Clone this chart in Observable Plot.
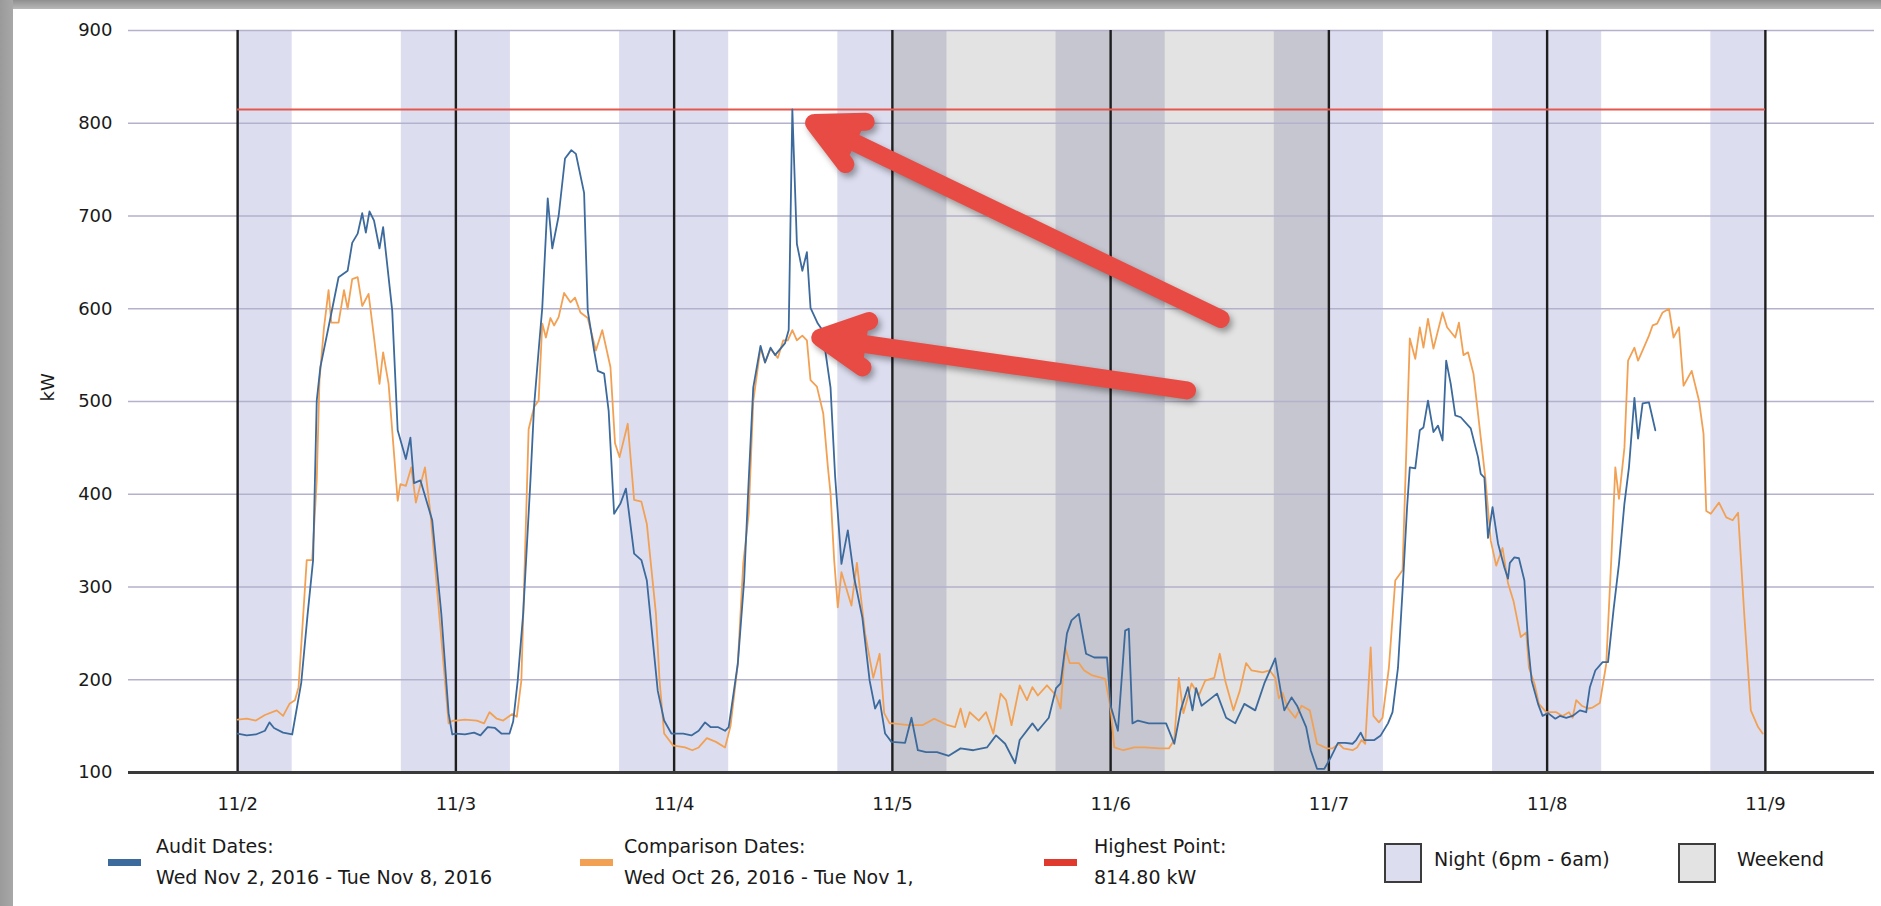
<!DOCTYPE html>
<html>
<head>
<meta charset="utf-8">
<script src="https://cdn.jsdelivr.net/npm/d3@7"></script>
<script src="https://cdn.jsdelivr.net/npm/@observablehq/plot@0.6"></script>
<style>
  html, body { margin: 0; padding: 0; background: #fff; }
  body { width: 1881px; height: 906px; position: relative; overflow: hidden; font-family: "DejaVu Sans", Verdana, sans-serif; color: #1a1a1a; }
  #frameTop { position: absolute; left: 0; top: 0; width: 1881px; height: 9px; background: linear-gradient(#8f8f8f, #b8b8b8); z-index: 5; }
  #frameLeft { position: absolute; left: 0; top: 0; width: 13px; height: 906px; background: linear-gradient(90deg, #9a9a9a, #a8a8a8); z-index: 5; }
  #chart { position: absolute; left: 0; top: 0; }
  #legend { position: absolute; left: 0; top: 830px; width: 1881px; height: 76px; font-size: 19px; }
  .sw { position: absolute; height: 7px; width: 33px; }
  .lt { position: absolute; line-height: 31px; white-space: nowrap; }
  .box { position: absolute; width: 34px; height: 36px; border: 2px solid #3c3c3c; box-sizing: content-box; }
</style>
</head>
<body>
<div id="frameTop"></div>
<div id="frameLeft"></div>
<div id="chart"></div>
<div id="legend"></div>
<script>
// ---- data (hours after Wed Nov 2, 2016 00:00, kW) ----
const audit = [
  [0,142],[1,140],[2,141],[3,145],[3.5,154],[4,148],[5,143],[6,141],[7,197],[7.7,271],[8.3,329],[8.7,501],[9.1,537],[10.2,590],[11.1,634],[12.1,641],[12.6,671],[13.2,681],[13.7,703],[14.1,682],[14.5,705],[15,695],[15.6,665],[16,688],[17,598],[17.6,469],[18.5,438],[19,461],[19.4,412],[20.1,415],[21.4,372],[22.4,271],[23.2,164],[23.6,141],
  [24,142],[25,141],[26,143],[26.7,140],[27.5,149],[28.3,148],[29,142],[29.9,142],[30.3,155],[30.8,199],[31.4,271],[32.2,415],[32.6,495],[33.1,555],[33.5,601],[34.1,719],[34.6,665],[35.3,700],[36,762],[36.7,771],[37.2,767],[38.1,725],[38.5,598],[39.2,555],[39.6,533],[40.3,530],[40.8,490],[41.4,379],[42.1,390],[42.7,406],[43.6,336],[44.4,329],[45,307],[46.2,188],[46.9,156],[47.7,142],
  [48,142],[49,142],[49.9,140],[50.7,145],[51.4,154],[52,149],[52.8,149],[53.6,145],[54,149],[55,217],[55.7,307],[56.2,415],[56.7,515],[57.5,560],[58,542],[58.6,558],[59.1,550],[59.7,557],[60.2,563],[60.6,577],[61,814.8],[61.5,670],[62.1,641],[62.6,661],[63,601],[63.8,584],[64.3,577],[65.2,515],[65.7,420],[66.4,325],[67.1,361],[67.8,310],[68.7,267],[69.5,199],[70.1,169],[70.6,178],[71.2,142],[71.9,133],
  [73.4,132],[74.1,159],[74.8,124],[75.7,122],[76.9,122],[78.2,118],[79.5,126],[80.9,124],[82.4,127],[83.4,140],[84.4,131],[85.5,110],[86,135],[87.4,153],[88,145],[89.2,159],[90,191],[90.5,196],[91.2,250],[91.7,264],[92.5,271],[93.3,228],[94.2,224],[95.6,224],
  [96,172],[96.8,145],[97.6,253],[98,255],[98.4,153],[99,156],[100.2,153],[102.1,153],[103,131],[103.7,167],[104.5,192],[105,167],[105.4,191],[106,172],[106.8,178],[107.7,185],[108.7,159],[109.7,153],[110.7,174],[111.9,167],[112.9,196],[114.1,223],[114.7,188],[115.1,167],[115.9,181],[116.5,172],[117.5,149],[118,124],[118.7,104],[119.5,104],
  [120.2,116],[121,132],[121.8,132],[122.6,131],[123,135],[123.5,143],[123.9,135],[125,135],[125.7,140],[126.5,153],[127,165],[127.6,213],[128.1,296],[128.6,386],[128.9,429],[129.5,428],[130,469],[130.4,472],[130.9,501],[131.5,467],[132,474],[132.5,458],[132.9,544],[133.4,519],[133.9,485],[134.5,483],[135.6,471],[136.4,440],[136.7,422],[137.1,418],[137.5,353],[138,386],[138.6,347],[139.3,321],[139.7,309],[139.9,326],[140.4,332],[140.9,331],[141.5,307],[141.9,239],[142.3,199],[143,174],[143.5,161],
  [144.1,164],[144.9,158],[145.4,161],[146.1,159],[146.8,161],[147.6,167],[148.3,165],[148.7,192],[149.3,210],[150.1,219],[150.7,219],[151.3,275],[151.9,325],[152.5,390],[153,429],[153.6,504],[154,460],[154.5,498],[155.2,499],[155.9,469]
];
const comparison = [
  [0,157],[1,158],[2,156],[3,162],[4.3,167],[5,161],[5.7,174],[6.3,178],[6.7,192],[7.6,329],[8.2,329],[8.7,415],[9,523],[9.5,580],[10,620],[10.3,585],[11.1,585],[11.7,620],[12.1,600],[12.6,632],[13.2,634],[13.7,603],[14.4,616],[15,569],[15.6,519],[16,553],[16.6,519],[17.6,393],[17.9,411],[18.5,409],[19.1,429],[19.6,391],[20.6,429],[21.2,380],[22.8,199],[23.2,153],[23.7,156],
  [24,156],[25,157],[26.3,156],[27.1,153],[27.7,165],[28.5,158],[29.2,156],[30.2,163],[30.7,160],[31.2,199],[32,470],[32.6,494],[33.1,501],[33.5,584],[33.9,569],[34.4,590],[34.8,582],[35.3,591],[35.9,617],[36.6,607],[37.1,612],[37.7,596],[38.5,590],[39.4,555],[40.1,577],[41,537],[41.5,455],[42,440],[42.9,476],[43.6,394],[44.4,392],[45,368],[46,271],[46.4,199],[46.9,142],[47.9,129],
  [48,129],[49.2,127],[50,124],[50.7,127],[51.6,137],[52.6,133],[53.6,127],[54.2,150],[55,217],[55.6,325],[56.2,379],[56.7,500],[57.5,558],[58,542],[58.6,557],[59.4,547],[60,566],[60.5,566],[61,577],[61.5,566],[62.1,571],[62.6,566],[63,523],[63.7,516],[64.4,487],[64.9,430],[65.2,401],[65.6,329],[66,278],[66.4,316],[67.5,280],[68.1,326],[69,250],[69.9,202],[70.6,228],[71.1,164],[71.7,153],
  [72,153],[73.8,151],[75.3,151],[76.6,158],[78.1,151],[78.9,149],[79.5,169],[80,149],[80.5,165],[81.5,156],[82.3,165],[83.1,142],[83.9,185],[84.5,178],[85.1,151],[86,194],[86.8,178],[87.4,192],[88,183],[89,194],[90,183],[90.5,169],[91,235],[91.5,218],[92.5,218],[93.1,210],[93.9,205],[95.4,201],
  [96,169],[96.4,127],[97.4,124],[98.6,127],[99.7,127],[101.4,126],[102.4,126],[103,135],[103.5,202],[104,164],[104.9,196],[105.7,183],[106.4,199],[107.4,202],[108,228],[108.6,199],[109.5,167],[110.2,188],[110.9,218],[111.5,210],[112.7,208],[113.5,210],[114.1,202],[114.5,180],[114.9,186],[115.5,169],[116.3,159],[117,172],[117.9,167],[118.7,131],[119.8,126],
  [120.4,126],[121.1,131],[121.6,126],[122.6,124],[123.1,127],[123.6,135],[124,131],[124.6,235],[124.9,161],[125.5,154],[125.9,159],[126.6,213],[127.3,307],[128.1,318],[128.4,411],[128.9,568],[129.5,546],[130,580],[130.4,558],[130.9,589],[131.5,557],[132.5,596],[133,580],[133.9,569],[134.3,585],[134.8,550],[135.3,553],[135.9,530],[136.7,461],[137.2,418],[137.8,350],[138.4,323],[139.1,342],[139.7,304],[140.3,285],[141.1,246],[141.7,251],[142,213],[142.6,196],[143.1,174],[143.9,165],
  [144.3,165],[145,165],[145.7,161],[146.4,165],[146.8,159],[147.2,178],[147.8,172],[148.5,169],[149,170],[149.8,175],[150.5,217],[151.1,339],[151.5,429],[151.9,395],[152.5,450],[152.9,544],[153.6,558],[154,544],[154.5,555],[155.2,571],[155.6,582],[156.1,584],[156.7,596],[157.4,600],[157.9,569],[158.5,580],[159,517],[159.9,533],[160.7,501],[161.2,465],[161.5,382],[162,379],[162.9,391],[163.7,375],[164.4,372],[165,380],[165.7,267],[166.4,167],[167.2,149],[167.7,142]
];
const highestPoint = 814.8;
const highestSpan = [0, 168];            // hours: 11/2 .. 11/9
const nightBands = [[0,6],[18,30],[42,54],[66,72],[120,126],[138,150],[162,168]];
const weekendBands = [[72,120]];
const weekendNightBands = [[72,78],[90,102],[114,120]];
const dayHours = [0,24,48,72,96,120,144,168];
const yTicks = [100,200,300,400,500,600,700,800,900];
const xDomainHours = [-12, 180];
const yDomain = [100, 900];
// annotation arrows: [tailHour, tailKW, tipHour, tipKW]
const arrows = [[108.1,589,62.6,804],[104.4,512,63.2,570]];
const legendItems = [
  {label: "Audit Dates:", sub: "Wed Nov 2, 2016 - Tue Nov 8, 2016", color: "#3c6a9c"},
  {label: "Comparison Dates:", sub: "Wed Oct 26, 2016 - Tue Nov 1,", color: "#f2a154"},
  {label: "Highest Point:", sub: "814.80 kW", color: "#e0392e"},
  {label: "Night (6pm - 6am)", box: "#dcdef0"},
  {label: "Weekend", box: "#e3e3e3"}
];

// ---- helpers ----
const T0 = Date.UTC(2016, 10, 2);
const t = h => new Date(T0 + h * 3600e3);
const toPts = arr => arr.map(([h, v]) => ({date: t(h), kw: v}));
const toBands = arr => arr.map(([a, b]) => ({x1: t(a), x2: t(b)}));

const blueColor = legendItems[0].color, orangeColor = legendItems[1].color;
const FONT = '"DejaVu Sans", Verdana, sans-serif';

const chart = Plot.plot({
  width: 1881,
  height: 830,
  marginLeft: 128,
  marginRight: 7,
  marginTop: 30,
  marginBottom: 58,
  style: {fontFamily: FONT, fontSize: "18px", color: "#1a1a1a", background: "transparent", overflow: "visible"},
  x: {type: "utc", domain: xDomainHours.map(t)},
  y: {domain: yDomain},
  marks: [
    Plot.rect(toBands(nightBands), {x1: "x1", x2: "x2", fill: "#dcdef0"}),
    Plot.rect(toBands(weekendBands), {x1: "x1", x2: "x2", fill: "#e3e3e3"}),
    Plot.rect(toBands(weekendNightBands), {x1: "x1", x2: "x2", fill: "#c5c6d0"}),
    Plot.ruleY(yTicks, {stroke: "#b3b1cb", strokeWidth: 1.6}),
    Plot.ruleX(dayHours.map(t), {stroke: "#1e1e1e", strokeWidth: 2.4}),
    Plot.ruleY([yDomain[0]], {stroke: "#3a3a3a", strokeWidth: 3}),
    Plot.ruleY([highestPoint], {x1: t(highestSpan[0]), x2: t(highestSpan[1]), stroke: "#e5574c", strokeWidth: 2}),
    Plot.line(toPts(comparison), {x: "date", y: "kw", stroke: orangeColor, strokeWidth: 1.8, curve: "linear"}),
    Plot.line(toPts(audit), {x: "date", y: "kw", stroke: blueColor, strokeWidth: 1.8, curve: "linear"}),
    Plot.arrow(arrows, {
      x1: d => t(d[0]), y1: d => d[1], x2: d => t(d[2]), y2: d => d[3],
      stroke: "#e84b44", fill: "#e84b44", strokeWidth: 18, headLength: 4.3, headAngle: 54,
      insetEnd: 8, strokeLinecap: "round"
    }),
    Plot.axisY(yTicks, {tickSize: 0, tickPadding: 16, label: null, fontSize: 18}),
    Plot.axisX(dayHours.map(t), {tickSize: 0, tickPadding: 25, label: null, fontSize: 18, tickFormat: d3.utcFormat("%-m/%-d")}),
    Plot.text(["kW"], {frameAnchor: "left", dx: -80, rotate: -90, fontSize: 18})
  ]
});
document.getElementById("chart").appendChild(chart);
d3.select(chart).selectAll('g[aria-label="arrow"]').style("filter", "drop-shadow(3px 4px 3px rgba(0,0,0,0.35))");

// ---- legend ----
const legend = document.getElementById("legend");
const pos = [
  {sw: 108, tx: 156}, {sw: 580, tx: 624}, {sw: 1044, tx: 1094}, {sw: 1384, tx: 1434}, {sw: 1678, tx: 1737}
];
legendItems.forEach((it, i) => {
  const p = pos[i];
  if (it.box) {
    const b = document.createElement("div");
    b.className = "box"; b.style.left = p.sw + "px"; b.style.top = "13px"; b.style.background = it.box;
    legend.appendChild(b);
    const tx = document.createElement("div");
    tx.className = "lt"; tx.style.left = p.tx + "px"; tx.style.top = "14px"; tx.textContent = it.label;
    legend.appendChild(tx);
  } else {
    const s = document.createElement("div");
    s.className = "sw"; s.style.left = p.sw + "px"; s.style.top = "29px"; s.style.background = it.color;
    legend.appendChild(s);
    const tx = document.createElement("div");
    tx.className = "lt"; tx.style.left = p.tx + "px"; tx.style.top = "1px";
    const l1 = document.createElement("div"); l1.textContent = it.label;
    const l2 = document.createElement("div"); l2.textContent = it.sub;
    tx.appendChild(l1); tx.appendChild(l2);
    legend.appendChild(tx);
  }
});
</script>
</body>
</html>
